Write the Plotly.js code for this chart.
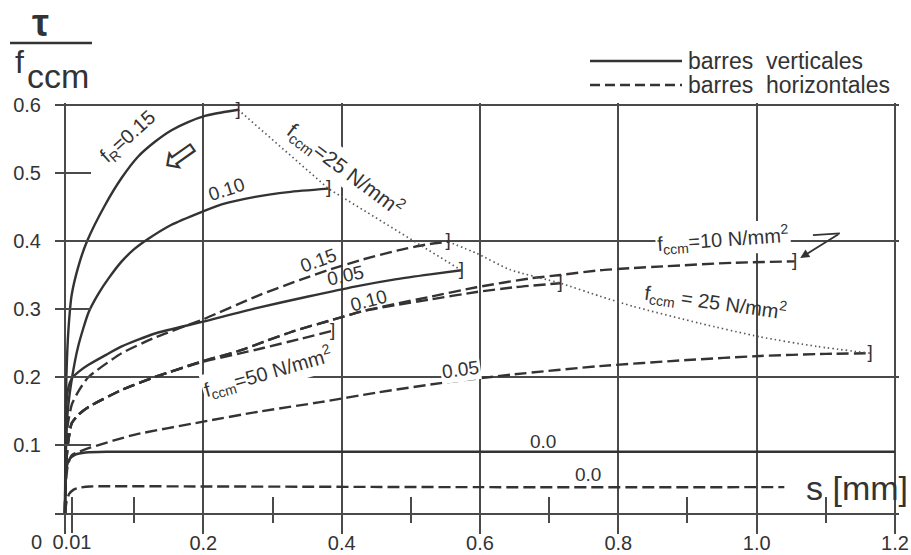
<!DOCTYPE html>
<html>
<head>
<meta charset="utf-8">
<script src="https://cdn.plot.ly/plotly-3.0.1.min.js"></script>
<style>
  html, body { margin: 0; padding: 0; background: #ffffff; }
  #chart { width: 911px; height: 555px; }
</style>
</head>
<body>
<div id="chart"></div>
<script>
// Bond stress ratio tau/fccm versus slip s [mm]

// barres verticales (solid), fR = 0.15 / 0.10 / 0.05 / 0.0
const sV015 = [0, 0.0005, 0.002, 0.005, 0.0097, 0.02, 0.032, 0.058, 0.082, 0.1055, 0.130, 0.154, 0.178, 0.2025, 0.2265, 0.2505];
const tV015 = [0, 0.10, 0.20, 0.27, 0.321, 0.365, 0.40, 0.453, 0.493, 0.524, 0.546, 0.563, 0.575, 0.584, 0.589, 0.593];

const sV010 = [0, 0.001, 0.004, 0.0097, 0.019, 0.034, 0.048, 0.063, 0.082, 0.10, 0.120, 0.154, 0.198, 0.2265, 0.275, 0.323, 0.381];
const tV010 = [0, 0.08, 0.15, 0.196, 0.245, 0.295, 0.322, 0.345, 0.370, 0.388, 0.403, 0.424, 0.443, 0.454, 0.465, 0.472, 0.477];

const sV005 = [0, 0.0008, 0.002, 0.005, 0.01, 0.02, 0.034, 0.06, 0.082, 0.13, 0.198, 0.275, 0.35, 0.419, 0.4795, 0.528, 0.573];
const tV005 = [0, 0.10, 0.16, 0.185, 0.198, 0.208, 0.218, 0.233, 0.245, 0.264, 0.281, 0.301, 0.318, 0.333, 0.344, 0.351, 0.357];

const sV000 = [0, 0.001, 0.003, 0.007, 0.015, 0.03, 0.06, 0.2, 0.6, 1.2];
const tV000 = [0, 0.05, 0.07, 0.08, 0.086, 0.089, 0.09, 0.09, 0.09, 0.09];

// barres horizontales (dashed)
const sH015 = [0, 0.001, 0.004, 0.01, 0.02, 0.034, 0.082, 0.13, 0.2, 0.275, 0.34, 0.383, 0.431, 0.48, 0.523, 0.554];
const tH015 = [0, 0.08, 0.13, 0.16, 0.18, 0.20, 0.235, 0.258, 0.285, 0.318, 0.343, 0.358, 0.373, 0.386, 0.395, 0.399];

// fR = 0.10 for fccm = 25, 50 and 10 N/mm2
const sH010_25 = [0, 0.001, 0.004, 0.0097, 0.02, 0.034, 0.082, 0.13, 0.198, 0.25, 0.288, 0.332, 0.383, 0.431, 0.48, 0.528, 0.595, 0.65, 0.716];
const tH010_25 = [0, 0.06, 0.10, 0.132, 0.145, 0.156, 0.181, 0.20, 0.223, 0.238, 0.252, 0.268, 0.283, 0.297, 0.306, 0.314, 0.325, 0.332, 0.338];

const sH010_50 = [0, 0.001, 0.004, 0.0097, 0.02, 0.034, 0.082, 0.13, 0.198, 0.25, 0.288, 0.34, 0.387];
const tH010_50 = [0, 0.06, 0.10, 0.132, 0.145, 0.156, 0.181, 0.20, 0.222, 0.234, 0.243, 0.256, 0.268];

const sH010_10 = [0, 0.001, 0.004, 0.0097, 0.02, 0.034, 0.082, 0.13, 0.198, 0.25, 0.288, 0.332, 0.383, 0.431, 0.48, 0.528, 0.595, 0.672, 0.716, 0.773, 0.817, 0.87, 0.966, 1.055];
const tH010_10 = [0, 0.06, 0.10, 0.132, 0.145, 0.156, 0.181, 0.20, 0.223, 0.238, 0.252, 0.268, 0.283, 0.297, 0.308, 0.318, 0.332, 0.345, 0.350, 0.357, 0.360, 0.363, 0.368, 0.370];

const sH005 = [0, 0.001, 0.004, 0.0097, 0.02, 0.036, 0.1, 0.198, 0.28, 0.369, 0.45, 0.55, 0.65, 0.773, 0.9, 1.005, 1.1, 1.164];
const tH005 = [0, 0.04, 0.07, 0.085, 0.09, 0.096, 0.115, 0.134, 0.149, 0.163, 0.177, 0.192, 0.204, 0.216, 0.225, 0.231, 0.234, 0.235];

const sH000 = [0, 0.002, 0.006, 0.012, 0.02, 0.036, 0.2, 0.6, 1.04];
const tH000 = [0, 0.015, 0.028, 0.034, 0.037, 0.039, 0.039, 0.038, 0.038];

// fccm = 25 N/mm2 envelope through the dashed end points (intermediate points)
const sEnvH1 = [0.595, 0.643];
const tEnvH1 = [0.382, 0.358];
const sEnvH2 = [0.773, 0.821, 0.918, 1.005, 1.087];
const tEnvH2 = [0.319, 0.304, 0.279, 0.259, 0.245];

// tick labels
const xTickVals = [0, 0.2, 0.4, 0.6, 0.8, 1.0, 1.2];
const xTickText = ['', '0.2', '0.4', '0.6', '0.8', '1.0', '1.2'];
const xMinorVals = [0.1, 0.3, 0.5, 0.7, 0.9, 1.1];
const yTickVals = [0.1, 0.2, 0.3, 0.4, 0.5, 0.6];
const yTickText = ['0.1', '0.2', '0.3', '0.4', '0.5', '0.6'];
const yGridVals = [0.2, 0.4, 0.6];

const FONT = 'Liberation Sans, Arial, Helvetica, sans-serif';
const INK = '#333333';
const GRID = '#4a4a4a';
const DASH = '12px,5px';

const last = a => a[a.length - 1];

function curve(s, t, dash) {
  return {
    type: 'scatter', mode: 'lines', x: s, y: t,
    line: { color: INK, width: 2.4, dash: dash, shape: 'spline', smoothing: 0.6 },
    hoverinfo: 'skip', showlegend: false
  };
}

const solid = [[sV015, tV015], [sV010, tV010], [sV005, tV005]];
const dashed = [[sH015, tH015], [sH010_25, tH010_25], [sH010_50, tH010_50], [sH010_10, tH010_10], [sH005, tH005]];

const traces = [];
solid.forEach(c => traces.push(curve(c[0], c[1], 'solid')));
traces.push(curve(sV000, tV000, 'solid'));
dashed.forEach(c => traces.push(curve(c[0], c[1], DASH)));
traces.push(curve(sH000, tH000, DASH));

// dotted fccm = 25 N/mm2 envelopes
traces.push({
  type: 'scatter', mode: 'lines',
  x: [last(sV015), last(sV010), last(sV005)],
  y: [last(tV015), last(tV010), last(tV005)],
  line: { color: '#5a5a5a', width: 1.7, dash: '1.5px,3px' },
  hoverinfo: 'skip', showlegend: false
});
traces.push({
  type: 'scatter', mode: 'lines',
  x: [last(sH015)].concat(sEnvH1, [last(sH010_25)], sEnvH2, [last(sH005)]),
  y: [last(tH015)].concat(tEnvH1, [last(tH010_25)], tEnvH2, [last(tH005)]),
  line: { color: '#5a5a5a', width: 1.7, dash: '1.5px,3px', shape: 'spline', smoothing: 0.6 },
  hoverinfo: 'skip', showlegend: false
});

// end-of-test brackets
const ended = solid.concat(dashed);
traces.push({
  type: 'scatter', mode: 'text',
  x: ended.map(c => last(c[0])), y: ended.map(c => last(c[1])),
  text: ended.map(() => ']'), textposition: 'middle center',
  textfont: { family: FONT, size: 19, color: INK },
  cliponaxis: false, hoverinfo: 'skip', showlegend: false
});

// empty traces so the overlay axes get their subplots
traces.push({ type: 'scatter', x: [], y: [], xaxis: 'x2', yaxis: 'y', showlegend: false, hoverinfo: 'skip' });
traces.push({ type: 'scatter', x: [], y: [], xaxis: 'x', yaxis: 'y2', showlegend: false, hoverinfo: 'skip' });

const XR = [-0.01446, 1.2058];
const YR = [0, 0.603];
const tickFont = { family: FONT, size: 20, color: INK };

function label(x, y, text, angle, size, extra) {
  return Object.assign({
    x: x, y: y, xref: 'x', yref: 'y', text: text, textangle: angle || 0,
    showarrow: false, font: { family: FONT, size: size || 19, color: INK }
  }, extra || {});
}
function paperText(x, y, text, size, extra) {
  return Object.assign({
    x: x, y: y, xref: 'paper', yref: 'paper', text: text, showarrow: false,
    xanchor: 'center', yanchor: 'middle',
    font: { family: FONT, size: size, color: INK }
  }, extra || {});
}
const bg = { bgcolor: '#ffffff', borderpad: 1 };

const annotations = [
  label(0.091, 0.553, 'f<sub>R</sub>=0.15', -42, 20),
  label(0.166, 0.527, '\u21E6', -35, 44),
  label(0.233, 0.476, '0.10', -18),
  label(0.405, 0.505, 'f<sub>ccm</sub>=25 N/mm<sup>2</sup>', 37, 21, bg),
  label(0.366, 0.371, '0.15', -20),
  label(0.405, 0.349, '0.05', -12),
  label(0.4395, 0.313, '0.10', -15),
  label(0.2935, 0.207, 'f<sub>ccm</sub>=50 N/mm<sup>2</sup>', -16, 20, bg),
  label(0.5725, 0.211, '0.05', -8, 19, bg),
  label(0.691, 0.105, '0.0', 0),
  label(0.756, 0.056, '0.0', 0),
  label(0.951, 0.402, 'f<sub>ccm</sub>=10 N/mm<sup>2</sup>', -4, 20, bg),
  label(0.94, 0.31, 'f<sub>ccm</sub> = 25 N/mm<sup>2</sup>', 8, 20),
  // arrow from the fccm = 10 label to its curve end
  {
    x: last(sH010_10) + 0.008, y: last(tH010_10) + 0.005, xref: 'x', yref: 'y',
    ax: 1.1204, ay: 0.4113, axref: 'x', ayref: 'y', text: '',
    showarrow: true, arrowhead: 2, arrowsize: 1, arrowwidth: 1.8, arrowcolor: INK, standoff: 0
  },
  // axis titles and the lone origin label
  paperText(1.013, 0.061, 's [mm]', 34, { xanchor: 'right' }),
  paperText(-0.0225, -0.0715, '0', 20),
  paperText(-0.0166, 1.195, '\u03C4', 38, { font: { family: FONT, size: 38, color: INK, weight: 'bold' } }),
  paperText(-0.0415, 1.10, 'f', 32),
  paperText(0.0041, 1.066, 'ccm', 34),
  // legend texts
  paperText(0.7476, 1.1024, 'barres\u00A0 verticales', 23, { xanchor: 'left' }),
  paperText(0.7476, 1.0439, 'barres\u00A0 horizontales', 23, { xanchor: 'left' })
];

const shapes = [
  // fraction bar of the axis title
  { type: 'line', xref: 'paper', yref: 'paper', x0: -0.0533, x1: 0.0438, y0: 1.1463, y1: 1.1463,
    line: { color: INK, width: 2.5 } },
  // legend samples
  { type: 'line', xref: 'paper', yref: 'paper', x0: 0.6339, x1: 0.7429, y0: 1.1024, y1: 1.1024,
    line: { color: INK, width: 2.3 } },
  { type: 'line', xref: 'paper', yref: 'paper', x0: 0.6339, x1: 0.7429, y0: 1.0439, y1: 1.0439,
    line: { color: INK, width: 2.3, dash: '10px,5px' } },
  // leader stub of the fccm = 10 label
  { type: 'line', xref: 'x', yref: 'y', x0: 1.0814, x1: 1.1204, y0: 0.4088, y1: 0.4113,
    line: { color: INK, width: 1.8 } }
];

const layout = {
  width: 911, height: 555,
  margin: { l: 55, r: 12, t: 103, b: 42, pad: 0 },
  paper_bgcolor: '#ffffff', plot_bgcolor: '#ffffff',
  font: { family: FONT, color: INK },
  showlegend: false, hovermode: false,
  xaxis: {
    range: XR, tickmode: 'array', tickvals: xTickVals, ticktext: xTickText,
    ticks: 'outside', ticklen: 19, tickwidth: 2, tickcolor: GRID,
    showgrid: true, gridcolor: GRID, gridwidth: 1.8, zeroline: false,
    showline: true, linecolor: GRID, linewidth: 2, tickfont: tickFont, ticklabelstandoff: -8,
    minor: { tickmode: 'array', tickvals: [0.01].concat(xMinorVals), ticks: 'inside', ticklen: 16,
             tickwidth: 2, tickcolor: GRID, showgrid: false },
    fixedrange: true
  },
  xaxis2: {
    overlaying: 'x', anchor: 'y', side: 'bottom', range: XR,
    tickmode: 'array', tickvals: [0.01], ticktext: ['0.01'],
    ticks: 'outside', ticklen: 19, tickwidth: 2, tickcolor: GRID,
    showgrid: false, zeroline: false, showline: false, tickfont: tickFont, ticklabelstandoff: -8,
    minor: { tickmode: 'array', tickvals: xMinorVals, ticks: 'outside', ticklen: 9,
             tickwidth: 2, tickcolor: GRID, showgrid: false },
    fixedrange: true
  },
  yaxis: {
    range: YR, tickmode: 'array', tickvals: yTickVals, ticktext: yTickText,
    ticks: 'inside', ticklen: 36, tickwidth: 2, tickcolor: GRID,
    showgrid: false, zeroline: false, showline: false,
    tickfont: tickFont, ticklabelstandoff: 13, fixedrange: true
  },
  yaxis2: {
    overlaying: 'y', anchor: 'x', side: 'left', range: YR,
    tickmode: 'array', tickvals: yGridVals, ticks: '', showticklabels: false,
    showgrid: true, gridcolor: GRID, gridwidth: 1.8, zeroline: false, showline: false,
    fixedrange: true
  },
  annotations: annotations,
  shapes: shapes
};

Plotly.newPlot('chart', traces, layout, { staticPlot: true, displayModeBar: false });
</script>
</body>
</html>
